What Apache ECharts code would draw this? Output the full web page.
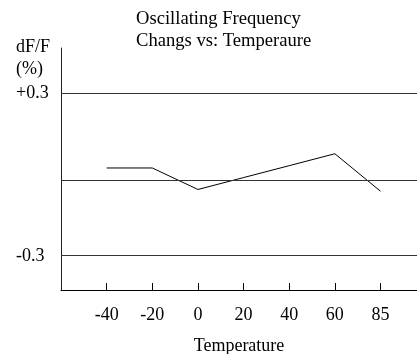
<!DOCTYPE html>
<html><head><meta charset="utf-8">
<script src="https://cdn.jsdelivr.net/npm/echarts@6/dist/echarts.min.js"></script>
<style>html,body{margin:0;padding:0;background:#fff}#c{width:417px;height:354px}</style>
</head><body><div id="c"></div>
<script>
var categories = ['-40', '-20', '0', '20', '40', '60', '85'];
var dfValues = [0.042, 0.042, -0.032, 0.009, 0.050, 0.091, -0.038];
var yLineValues = [0.3, 0, -0.263];
var yTickLabels = ['+0.3', '', '-0.3'];
var titleText = 'Oscillating Frequency\nChangs vs: Temperaure';
var yName = 'dF/F\n(%)';
var xName = 'Temperature';

var font = 'Liberation Serif, Times New Roman, serif';
var fs = 18;
var chart = echarts.init(document.getElementById('c'), null, {renderer: 'canvas'});
var idx = categories.map(function (c, i) { return i; });
chart.setOption({
  animation: false,
  backgroundColor: '#fff',
  title: [
    {text: titleText, left: 136, top: 8, padding: 0,
     textStyle: {fontFamily: font, fontSize: 18.6, fontWeight: 'normal', color: '#000', lineHeight: 22}},
    {text: yName, left: 16, top: 36, padding: 0,
     textStyle: {fontFamily: font, fontSize: fs, fontWeight: 'normal', color: '#000', lineHeight: 22}}
  ],
  grid: {left: 61, right: 0, top: 48, bottom: 64, containLabel: false, outerBoundsMode: 'none'},
  xAxis: {
    type: 'value', min: -1, max: 6.8, position: 'bottom',
    name: xName, nameLocation: 'middle', nameGap: 47,
    nameTextStyle: {fontFamily: font, fontSize: fs, color: '#000'},
    axisLine: {show: true, onZero: false, lineStyle: {color: '#000', width: 1}},
    axisTick: {show: true, inside: true, length: 7, lineStyle: {color: '#000', width: 1}, customValues: idx},
    axisLabel: {customValues: idx, margin: 16, fontFamily: font, fontSize: fs, color: '#000',
      formatter: function (v) { return categories[Math.round(v)] || ''; }},
    splitLine: {show: false}
  },
  yAxis: {
    type: 'value', min: -0.378, max: 0.455,
    axisLine: {show: true, onZero: false, lineStyle: {color: '#222', width: 1}},
    axisTick: {show: false},
    axisLabel: {customValues: yLineValues, align: 'left', margin: 45, fontFamily: font, fontSize: fs, color: '#000',
      formatter: function (v) {
        var i = yLineValues.indexOf(v);
        return i >= 0 ? yTickLabels[i] : '';
      }},
    splitLine: {show: false}
  },
  series: [{
    type: 'line',
    data: dfValues.map(function (v, i) { return [i, v]; }),
    symbol: 'none',
    lineStyle: {color: '#000', width: 1},
    markLine: {
      silent: true, symbol: 'none', animation: false,
      label: {show: false},
      lineStyle: {color: '#333', width: 1, type: 'solid'},
      data: yLineValues.map(function (v) { return {yAxis: v}; })
    }
  }]
});
</script></body></html>
